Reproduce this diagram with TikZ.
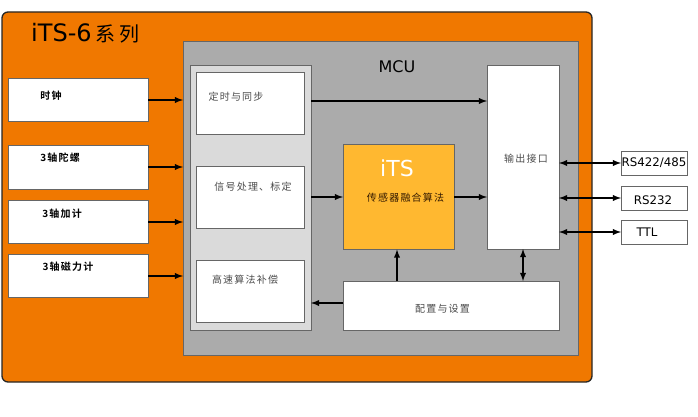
\documentclass[tikz,border=0pt]{standalone}
\usepackage{fontspec}
\setsansfont{DejaVu Sans}
\newfontfamily\cjkfont[LetterSpace=12]{Noto Sans CJK SC}
\newfontfamily\cjkbold[LetterSpace=12]{Noto Sans CJK SC Bold}
\newfontfamily\cjkwide[LetterSpace=18]{Noto Sans CJK SC}

\definecolor{shellorange}{HTML}{F07800}
\definecolor{mcugrey}{HTML}{ABABAB}
\definecolor{panelgrey}{HTML}{DADADA}
\definecolor{coreyellow}{HTML}{FFB830}
\definecolor{edgegrey}{HTML}{666666}

\tikzset{
    blockbox/.style={draw=edgegrey, fill=white, line width=0.9pt, inner sep=0pt, outer sep=0pt},
    conn/.style={line width=1.8pt, >=latex},
    hanzi/.style={font=\cjkfont\fontsize{10}{12}\selectfont, text=black!70, inner sep=0pt},
    hanzibold/.style={font=\cjkbold\fontsize{10}{12}\selectfont, inner sep=0pt},
    iface/.style={font=\sffamily\fontsize{11.8}{15}\selectfont, inner sep=0pt},
}

\begin{document}
\begin{tikzpicture}[x=1pt, y=-1pt]
    \useasboundingbox (0,0) rectangle (698,417);

    % frames
    \node[draw=black!85, fill=shellorange, line width=1.3pt, rounded corners=6pt, inner sep=0pt, minimum width=590pt, minimum height=370pt] (shell) at (297,197) {};
    \node[draw=edgegrey, fill=mcugrey, line width=0.9pt, inner sep=0pt, outer sep=0pt, minimum width=395pt, minimum height=314pt] (mcu) at (380.5,198) {};
    \node[blockbox, fill=panelgrey, minimum width=121pt, minimum height=265pt] (panel) at (250.5,197.5) {};

    \node[font=\sffamily\fontsize{24}{28}\selectfont, inner sep=0pt, anchor=west] (title) at (31,33) {iTS-6\,{\cjkwide\fontsize{20}{24}\selectfont 系列}};
    \node[font=\sffamily\fontsize{16}{20}\selectfont, inner sep=0pt] (mcutext) at (397,67) {MCU};

    % inputs
    \node[blockbox, minimum width=140pt, minimum height=43pt] (clock) at (78,100) {};
    \node[blockbox, minimum width=140pt, minimum height=44pt] (gyro) at (78,167) {};
    \node[blockbox, minimum width=140pt, minimum height=43pt] (accel) at (78,222) {};
    \node[blockbox, minimum width=140pt, minimum height=43pt] (mag) at (78,276) {};
    \node[hanzibold] (clocktext) at (51,96) {时钟};
    \node[hanzibold] (gyrotext) at (60,158) {3轴陀螺};
    \node[hanzibold] (acceltext) at (62,214) {3轴加计};
    \node[hanzibold] (magtext) at (68,267) {3轴磁力计};

    % blocks inside the mcu
    \node[blockbox, minimum width=108pt, minimum height=62pt] (sync) at (250,103) {};
    \node[blockbox, minimum width=108pt, minimum height=62pt] (signal) at (250,197) {};
    \node[blockbox, minimum width=108pt, minimum height=62pt] (comp) at (250,291) {};
    \node[blockbox, fill=coreyellow, minimum width=111pt, minimum height=105pt] (core) at (398.5,197) {};
    \node[blockbox, minimum width=72pt, minimum height=184pt] (output) at (523,157) {};
    \node[blockbox, minimum width=216pt, minimum height=49pt] (config) at (451,305.5) {};
    \node[hanzi] (synctext) at (236,97) {定时与同步};
    \node[hanzi] (signaltext) at (253,187) {信号处理、标定};
    \node[hanzi] (comptext) at (245,280) {高速算法补偿};
    \node[font=\sffamily\fontsize{22}{26}\selectfont, text=white, inner sep=0pt] (coretitle) at (397,168) {iTS};
    \node[hanzi, text=black!80!orange] (coretext) at (405.5,198) {传感器融合算法};
    \node[hanzi] (outputtext) at (526,159) {输出接口};
    \node[hanzi] (configtext) at (442.5,309) {配置与设置};

    % outputs
    \node[blockbox, line width=0.7pt, minimum width=66pt, minimum height=24pt] (rsfour) at (654,163) {};
    \node[blockbox, line width=0.7pt, minimum width=66pt, minimum height=24pt] (rstwo) at (654,198) {};
    \node[blockbox, line width=0.7pt, minimum width=66pt, minimum height=24pt] (ttl) at (654,232) {};
    \node[iface] (rsfourtext) at (654,163) {RS422/485};
    \node[iface] (rstwotext) at (653,200) {RS232};
    \node[iface] (ttltext) at (647,232) {TTL};

    \coordinate (synctap) at (311,101);
    \coordinate (backtap) at (343,303);
    \coordinate (uptap) at (397,281);

    \draw[conn, ->] (clock.east) -- (clock.east -| mcu.west);
    \draw[conn, ->] (gyro.east) -- (gyro.east -| mcu.west);
    \draw[conn, ->] (accel.east) -- (accel.east -| mcu.west);
    \draw[conn, ->] (mag.east) -- (mag.east -| mcu.west);
    \draw[conn, ->] (synctap) -- (synctap -| output.west);
    \draw[conn, ->] (signal.east -| panel.east) -- (core.west |- signal.east);
    \draw[conn, ->] (core.east) -- (core.east -| output.west);
    \draw[conn, ->] (backtap) -- (backtap -| panel.east);
    \draw[conn, ->] (uptap) -- (uptap |- core.south);
    \draw[conn, <->] (config.north -| output.south) -- (output.south);
    \draw[conn, <->] (output.east |- rsfour.west) -- (rsfour.west);
    \draw[conn, <->] (output.east |- rstwo.west) -- (rstwo.west);
    \draw[conn, <->] (output.east |- ttl.west) -- (ttl.west);
\end{tikzpicture}
\end{document}
